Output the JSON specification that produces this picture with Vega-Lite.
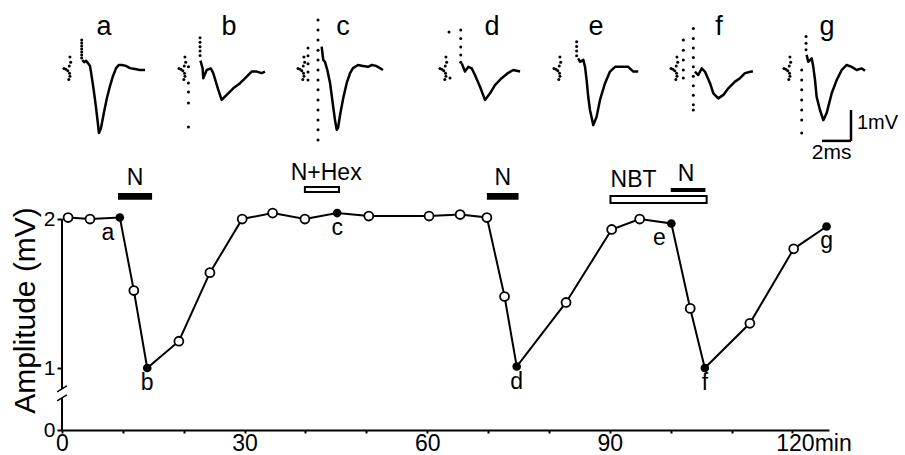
{
"$schema": "https://vega.github.io/schema/vega-lite/v6.json",
"autosize": {"type": "none"},
"padding": {"left": 62, "top": 170, "right": 76, "bottom": 25},
"width": 767, "height": 260,
"config": {"view": {"stroke": null}, "font": "Liberation Sans", "text": {"font": "Liberation Sans"}, "axis": {"labelFont": "Liberation Sans", "titleFont": "Liberation Sans"}},
"datasets": {
"amp": [
{"t":1.0,"mV":2.01,"label":""},{"t":4.6,"mV":2.0,"label":""},{"t":9.5,"mV":2.01,"label":"a"},{"t":11.8,"mV":1.52,"label":""},{"t":14.0,"mV":1.0,"label":"b"},{"t":19.2,"mV":1.18,"label":""},{"t":24.3,"mV":1.64,"label":""},{"t":29.6,"mV":2.0,"label":""},{"t":34.6,"mV":2.04,"label":""},{"t":39.9,"mV":2.0,"label":""},{"t":45.2,"mV":2.04,"label":"c"},{"t":50.4,"mV":2.02,"label":""},{"t":60.3,"mV":2.02,"label":""},{"t":65.4,"mV":2.03,"label":""},{"t":69.8,"mV":2.01,"label":""},{"t":72.7,"mV":1.48,"label":""},{"t":74.7,"mV":1.01,"label":"d"},{"t":82.8,"mV":1.44,"label":""},{"t":90.3,"mV":1.93,"label":""},{"t":94.9,"mV":2.0,"label":""},{"t":100.1,"mV":1.97,"label":"e"},{"t":103.2,"mV":1.40,"label":""},{"t":105.6,"mV":1.0,"label":"f"},{"t":113.0,"mV":1.30,"label":""},{"t":120.2,"mV":1.80,"label":""},{"t":125.6,"mV":1.95,"label":"g"}
],
"traces": [
{"trace":"a","ms":0.48,"mV":0.41,"kind":"dot"},{"trace":"a","ms":0.53,"mV":0.25,"kind":"dot"},{"trace":"a","ms":0.43,"mV":0.13,"kind":"dot"},{"trace":"a","ms":0.07,"mV":0.05,"kind":"dot"},{"trace":"a","ms":0.2,"mV":0.02,"kind":"dot"},{"trace":"a","ms":0.33,"mV":-0.02,"kind":"dot"},{"trace":"a","ms":0.45,"mV":-0.1,"kind":"dot"},{"trace":"a","ms":0.48,"mV":-0.2,"kind":"dot"},{"trace":"a","ms":0.4,"mV":-0.3,"kind":"dot"},
{"trace":"a","ms":1.29,"mV":0.95,"kind":"dot"},{"trace":"a","ms":1.29,"mV":0.86,"kind":"dot"},{"trace":"a","ms":1.29,"mV":0.76,"kind":"dot"},{"trace":"a","ms":1.29,"mV":0.67,"kind":"dot"},{"trace":"a","ms":1.29,"mV":0.57,"kind":"dot"},{"trace":"a","ms":1.29,"mV":0.48,"kind":"dot"},{"trace":"a","ms":1.29,"mV":0.38,"kind":"dot"},
{"trace":"a","ms":1.34,"mV":0.32,"kind":"line"},{"trace":"a","ms":1.45,"mV":0.25,"kind":"line"},{"trace":"a","ms":1.59,"mV":0.29,"kind":"line"},{"trace":"a","ms":1.72,"mV":0.22,"kind":"line"},{"trace":"a","ms":1.86,"mV":0.13,"kind":"line"},{"trace":"a","ms":1.93,"mV":-0.06,"kind":"line"},{"trace":"a","ms":2.07,"mV":-0.48,"kind":"line"},{"trace":"a","ms":2.21,"mV":-0.95,"kind":"line"},{"trace":"a","ms":2.34,"mV":-1.43,"kind":"line"},{"trace":"a","ms":2.48,"mV":-2.0,"kind":"line"},{"trace":"a","ms":2.62,"mV":-1.84,"kind":"line"},{"trace":"a","ms":2.83,"mV":-1.33,"kind":"line"},{"trace":"a","ms":3.03,"mV":-0.89,"kind":"line"},{"trace":"a","ms":3.24,"mV":-0.51,"kind":"line"},{"trace":"a","ms":3.45,"mV":-0.19,"kind":"line"},{"trace":"a","ms":3.66,"mV":0.06,"kind":"line"},{"trace":"a","ms":3.86,"mV":0.16,"kind":"line"},{"trace":"a","ms":4.07,"mV":0.16,"kind":"line"},{"trace":"a","ms":4.34,"mV":0.13,"kind":"line"},{"trace":"a","ms":4.62,"mV":0.06,"kind":"line"},{"trace":"a","ms":4.97,"mV":0.03,"kind":"line"},{"trace":"a","ms":5.31,"mV":0,"kind":"line"},{"trace":"a","ms":5.66,"mV":0,"kind":"line"},
{"trace":"b","ms":0.48,"mV":0.41,"kind":"dot"},{"trace":"b","ms":0.53,"mV":0.25,"kind":"dot"},{"trace":"b","ms":0.43,"mV":0.13,"kind":"dot"},{"trace":"b","ms":0.07,"mV":0.05,"kind":"dot"},{"trace":"b","ms":0.2,"mV":0.02,"kind":"dot"},{"trace":"b","ms":0.33,"mV":-0.02,"kind":"dot"},{"trace":"b","ms":0.45,"mV":-0.1,"kind":"dot"},{"trace":"b","ms":0.48,"mV":-0.2,"kind":"dot"},{"trace":"b","ms":0.4,"mV":-0.3,"kind":"dot"},
{"trace":"b","ms":1.52,"mV":1.02,"kind":"dot"},{"trace":"b","ms":1.52,"mV":0.88,"kind":"dot"},{"trace":"b","ms":1.52,"mV":0.74,"kind":"dot"},{"trace":"b","ms":1.52,"mV":0.6,"kind":"dot"},{"trace":"b","ms":1.52,"mV":0.46,"kind":"dot"},
{"trace":"b","ms":0.72,"mV":0.1,"kind":"dot"},{"trace":"b","ms":0.72,"mV":-0.41,"kind":"dot"},{"trace":"b","ms":0.72,"mV":-0.7,"kind":"dot"},{"trace":"b","ms":0.72,"mV":-1.05,"kind":"dot"},{"trace":"b","ms":0.72,"mV":-1.81,"kind":"dot"},
{"trace":"b","ms":1.55,"mV":0.3,"kind":"line"},{"trace":"b","ms":1.7,"mV":0.05,"kind":"line"},{"trace":"b","ms":1.74,"mV":-0.26,"kind":"line"},{"trace":"b","ms":1.98,"mV":0,"kind":"line"},{"trace":"b","ms":2.26,"mV":0.05,"kind":"line"},{"trace":"b","ms":2.43,"mV":-0.1,"kind":"line"},{"trace":"b","ms":2.78,"mV":-0.63,"kind":"line"},{"trace":"b","ms":3.01,"mV":-0.95,"kind":"line"},{"trace":"b","ms":3.36,"mV":-0.79,"kind":"line"},{"trace":"b","ms":3.81,"mV":-0.58,"kind":"line"},{"trace":"b","ms":4.28,"mV":-0.42,"kind":"line"},{"trace":"b","ms":4.74,"mV":-0.21,"kind":"line"},{"trace":"b","ms":5.08,"mV":-0.05,"kind":"line"},{"trace":"b","ms":5.43,"mV":-0.05,"kind":"line"},{"trace":"b","ms":5.77,"mV":-0.1,"kind":"line"},{"trace":"b","ms":6.0,"mV":-0.05,"kind":"line"},
{"trace":"c","ms":0.48,"mV":0.41,"kind":"dot"},{"trace":"c","ms":0.53,"mV":0.25,"kind":"dot"},{"trace":"c","ms":0.43,"mV":0.13,"kind":"dot"},{"trace":"c","ms":0.07,"mV":0.05,"kind":"dot"},{"trace":"c","ms":0.2,"mV":0.02,"kind":"dot"},{"trace":"c","ms":0.33,"mV":-0.02,"kind":"dot"},{"trace":"c","ms":0.45,"mV":-0.1,"kind":"dot"},{"trace":"c","ms":0.48,"mV":-0.2,"kind":"dot"},{"trace":"c","ms":0.4,"mV":-0.3,"kind":"dot"},
{"trace":"c","ms":0.76,"mV":0.7,"kind":"dot"},{"trace":"c","ms":0.76,"mV":0.45,"kind":"dot"},{"trace":"c","ms":0.76,"mV":0.2,"kind":"dot"},{"trace":"c","ms":0.76,"mV":-0.06,"kind":"dot"},{"trace":"c","ms":0.76,"mV":-0.32,"kind":"dot"},
{"trace":"c","ms":1.45,"mV":1.59,"kind":"dot"},{"trace":"c","ms":1.45,"mV":1.27,"kind":"dot"},{"trace":"c","ms":1.45,"mV":0.95,"kind":"dot"},{"trace":"c","ms":1.45,"mV":0.63,"kind":"dot"},{"trace":"c","ms":1.45,"mV":0.32,"kind":"dot"},{"trace":"c","ms":1.45,"mV":0,"kind":"dot"},{"trace":"c","ms":1.45,"mV":-0.32,"kind":"dot"},{"trace":"c","ms":1.45,"mV":-0.63,"kind":"dot"},{"trace":"c","ms":1.45,"mV":-0.95,"kind":"dot"},{"trace":"c","ms":1.45,"mV":-1.27,"kind":"dot"},{"trace":"c","ms":1.45,"mV":-1.59,"kind":"dot"},{"trace":"c","ms":1.45,"mV":-1.9,"kind":"dot"},{"trace":"c","ms":1.45,"mV":-2.22,"kind":"dot"},
{"trace":"c","ms":1.7,"mV":0.74,"kind":"line"},{"trace":"c","ms":1.81,"mV":0.32,"kind":"line"},{"trace":"c","ms":1.93,"mV":0.26,"kind":"line"},{"trace":"c","ms":2.09,"mV":0,"kind":"line"},{"trace":"c","ms":2.28,"mV":-0.41,"kind":"line"},{"trace":"c","ms":2.48,"mV":-1.11,"kind":"line"},{"trace":"c","ms":2.62,"mV":-1.59,"kind":"line"},{"trace":"c","ms":2.74,"mV":-1.9,"kind":"line"},{"trace":"c","ms":2.83,"mV":-1.84,"kind":"line"},{"trace":"c","ms":2.97,"mV":-1.43,"kind":"line"},{"trace":"c","ms":3.19,"mV":-0.89,"kind":"line"},{"trace":"c","ms":3.43,"mV":-0.41,"kind":"line"},{"trace":"c","ms":3.66,"mV":-0.1,"kind":"line"},{"trace":"c","ms":3.86,"mV":0.06,"kind":"line"},{"trace":"c","ms":4.21,"mV":0.16,"kind":"line"},{"trace":"c","ms":4.55,"mV":0.13,"kind":"line"},{"trace":"c","ms":4.9,"mV":0.1,"kind":"line"},{"trace":"c","ms":5.17,"mV":0.16,"kind":"line"},{"trace":"c","ms":5.45,"mV":0.13,"kind":"line"},{"trace":"c","ms":5.72,"mV":0.06,"kind":"line"},{"trace":"c","ms":5.93,"mV":0,"kind":"line"},
{"trace":"d","ms":0.48,"mV":0.41,"kind":"dot"},{"trace":"d","ms":0.53,"mV":0.25,"kind":"dot"},{"trace":"d","ms":0.43,"mV":0.13,"kind":"dot"},{"trace":"d","ms":0.07,"mV":0.05,"kind":"dot"},{"trace":"d","ms":0.2,"mV":0.02,"kind":"dot"},{"trace":"d","ms":0.33,"mV":-0.02,"kind":"dot"},{"trace":"d","ms":0.45,"mV":-0.1,"kind":"dot"},{"trace":"d","ms":0.48,"mV":-0.2,"kind":"dot"},{"trace":"d","ms":0.4,"mV":-0.3,"kind":"dot"},
{"trace":"d","ms":0.69,"mV":1.21,"kind":"dot"},{"trace":"d","ms":0.76,"mV":-0.25,"kind":"dot"},
{"trace":"d","ms":1.5,"mV":1.27,"kind":"dot"},{"trace":"d","ms":1.5,"mV":1.0,"kind":"dot"},{"trace":"d","ms":1.5,"mV":0.73,"kind":"dot"},{"trace":"d","ms":1.5,"mV":0.48,"kind":"dot"},{"trace":"d","ms":1.5,"mV":0.25,"kind":"dot"},
{"trace":"d","ms":1.57,"mV":0.21,"kind":"line"},{"trace":"d","ms":1.79,"mV":-0.05,"kind":"line"},{"trace":"d","ms":2.02,"mV":0.1,"kind":"line"},{"trace":"d","ms":2.26,"mV":0.05,"kind":"line"},{"trace":"d","ms":2.48,"mV":-0.16,"kind":"line"},{"trace":"d","ms":2.83,"mV":-0.53,"kind":"line"},{"trace":"d","ms":3.17,"mV":-0.95,"kind":"line"},{"trace":"d","ms":3.52,"mV":-0.74,"kind":"line"},{"trace":"d","ms":3.86,"mV":-0.48,"kind":"line"},{"trace":"d","ms":4.32,"mV":-0.26,"kind":"line"},{"trace":"d","ms":4.78,"mV":-0.09,"kind":"line"},{"trace":"d","ms":5.12,"mV":0,"kind":"line"},{"trace":"d","ms":5.59,"mV":-0.05,"kind":"line"},
{"trace":"e","ms":0.48,"mV":0.41,"kind":"dot"},{"trace":"e","ms":0.53,"mV":0.25,"kind":"dot"},{"trace":"e","ms":0.43,"mV":0.13,"kind":"dot"},{"trace":"e","ms":0.07,"mV":0.05,"kind":"dot"},{"trace":"e","ms":0.2,"mV":0.02,"kind":"dot"},{"trace":"e","ms":0.33,"mV":-0.02,"kind":"dot"},{"trace":"e","ms":0.45,"mV":-0.1,"kind":"dot"},{"trace":"e","ms":0.48,"mV":-0.2,"kind":"dot"},{"trace":"e","ms":0.4,"mV":-0.3,"kind":"dot"},
{"trace":"e","ms":1.63,"mV":0.9,"kind":"dot"},{"trace":"e","ms":1.63,"mV":0.75,"kind":"dot"},{"trace":"e","ms":1.63,"mV":0.6,"kind":"dot"},{"trace":"e","ms":1.63,"mV":0.45,"kind":"dot"},
{"trace":"e","ms":1.74,"mV":0.37,"kind":"line"},{"trace":"e","ms":1.86,"mV":0.26,"kind":"line"},{"trace":"e","ms":2.09,"mV":0.32,"kind":"line"},{"trace":"e","ms":2.21,"mV":0.1,"kind":"line"},{"trace":"e","ms":2.32,"mV":-0.32,"kind":"line"},{"trace":"e","ms":2.43,"mV":-0.85,"kind":"line"},{"trace":"e","ms":2.55,"mV":-1.27,"kind":"line"},{"trace":"e","ms":2.78,"mV":-1.75,"kind":"line"},{"trace":"e","ms":3.01,"mV":-1.48,"kind":"line"},{"trace":"e","ms":3.24,"mV":-0.95,"kind":"line"},{"trace":"e","ms":3.59,"mV":-0.42,"kind":"line"},{"trace":"e","ms":3.93,"mV":-0.05,"kind":"line"},{"trace":"e","ms":4.28,"mV":0.1,"kind":"line"},{"trace":"e","ms":4.62,"mV":0.1,"kind":"line"},{"trace":"e","ms":5.19,"mV":0.1,"kind":"line"},{"trace":"e","ms":5.54,"mV":-0.05,"kind":"line"},{"trace":"e","ms":5.88,"mV":-0.05,"kind":"line"},
{"trace":"f","ms":0.48,"mV":0.41,"kind":"dot"},{"trace":"f","ms":0.53,"mV":0.25,"kind":"dot"},{"trace":"f","ms":0.43,"mV":0.13,"kind":"dot"},{"trace":"f","ms":0.07,"mV":0.05,"kind":"dot"},{"trace":"f","ms":0.2,"mV":0.02,"kind":"dot"},{"trace":"f","ms":0.33,"mV":-0.02,"kind":"dot"},{"trace":"f","ms":0.45,"mV":-0.1,"kind":"dot"},{"trace":"f","ms":0.48,"mV":-0.2,"kind":"dot"},{"trace":"f","ms":0.4,"mV":-0.3,"kind":"dot"},
{"trace":"f","ms":0.92,"mV":0.95,"kind":"dot"},{"trace":"f","ms":0.92,"mV":0.63,"kind":"dot"},{"trace":"f","ms":0.92,"mV":0.32,"kind":"dot"},{"trace":"f","ms":0.92,"mV":0,"kind":"dot"},{"trace":"f","ms":0.92,"mV":-0.25,"kind":"dot"},
{"trace":"f","ms":1.61,"mV":1.32,"kind":"dot"},{"trace":"f","ms":1.61,"mV":1.0,"kind":"dot"},{"trace":"f","ms":1.61,"mV":0.7,"kind":"dot"},{"trace":"f","ms":1.61,"mV":0.4,"kind":"dot"},{"trace":"f","ms":1.61,"mV":0.1,"kind":"dot"},{"trace":"f","ms":1.61,"mV":-0.2,"kind":"dot"},{"trace":"f","ms":1.61,"mV":-0.5,"kind":"dot"},{"trace":"f","ms":1.61,"mV":-0.8,"kind":"dot"},{"trace":"f","ms":1.61,"mV":-1.1,"kind":"dot"},{"trace":"f","ms":1.61,"mV":-1.27,"kind":"dot"},
{"trace":"f","ms":1.72,"mV":-0.05,"kind":"line"},{"trace":"f","ms":1.95,"mV":-0.16,"kind":"line"},{"trace":"f","ms":2.19,"mV":0.05,"kind":"line"},{"trace":"f","ms":2.41,"mV":-0.05,"kind":"line"},{"trace":"f","ms":2.76,"mV":-0.42,"kind":"line"},{"trace":"f","ms":2.99,"mV":-0.74,"kind":"line"},{"trace":"f","ms":3.33,"mV":-0.9,"kind":"line"},{"trace":"f","ms":3.68,"mV":-0.79,"kind":"line"},{"trace":"f","ms":4.02,"mV":-0.58,"kind":"line"},{"trace":"f","ms":4.48,"mV":-0.37,"kind":"line"},{"trace":"f","ms":4.83,"mV":-0.26,"kind":"line"},{"trace":"f","ms":5.17,"mV":-0.1,"kind":"line"},{"trace":"f","ms":5.63,"mV":-0.05,"kind":"line"},{"trace":"f","ms":5.72,"mV":-0.05,"kind":"line"},
{"trace":"g","ms":0.48,"mV":0.41,"kind":"dot"},{"trace":"g","ms":0.53,"mV":0.25,"kind":"dot"},{"trace":"g","ms":0.43,"mV":0.13,"kind":"dot"},{"trace":"g","ms":0.07,"mV":0.05,"kind":"dot"},{"trace":"g","ms":0.2,"mV":0.02,"kind":"dot"},{"trace":"g","ms":0.33,"mV":-0.02,"kind":"dot"},{"trace":"g","ms":0.45,"mV":-0.1,"kind":"dot"},{"trace":"g","ms":0.48,"mV":-0.2,"kind":"dot"},{"trace":"g","ms":0.4,"mV":-0.3,"kind":"dot"},
{"trace":"g","ms":1.59,"mV":1.06,"kind":"dot"},{"trace":"g","ms":1.59,"mV":0.85,"kind":"dot"},{"trace":"g","ms":1.59,"mV":0.64,"kind":"dot"},
{"trace":"g","ms":1.29,"mV":0,"kind":"dot"},{"trace":"g","ms":1.29,"mV":-0.32,"kind":"dot"},{"trace":"g","ms":1.29,"mV":-0.63,"kind":"dot"},{"trace":"g","ms":1.29,"mV":-0.95,"kind":"dot"},{"trace":"g","ms":1.29,"mV":-1.27,"kind":"dot"},{"trace":"g","ms":1.29,"mV":-1.59,"kind":"dot"},{"trace":"g","ms":1.29,"mV":-2.0,"kind":"dot"},
{"trace":"g","ms":1.63,"mV":0.48,"kind":"line"},{"trace":"g","ms":1.74,"mV":0.26,"kind":"line"},{"trace":"g","ms":1.98,"mV":0.37,"kind":"line"},{"trace":"g","ms":2.09,"mV":0.1,"kind":"line"},{"trace":"g","ms":2.21,"mV":-0.32,"kind":"line"},{"trace":"g","ms":2.32,"mV":-0.85,"kind":"line"},{"trace":"g","ms":2.55,"mV":-1.27,"kind":"line"},{"trace":"g","ms":2.78,"mV":-1.59,"kind":"line"},{"trace":"g","ms":3.01,"mV":-1.37,"kind":"line"},{"trace":"g","ms":3.36,"mV":-0.74,"kind":"line"},{"trace":"g","ms":3.7,"mV":-0.32,"kind":"line"},{"trace":"g","ms":4.05,"mV":0,"kind":"line"},{"trace":"g","ms":4.39,"mV":0.16,"kind":"line"},{"trace":"g","ms":4.74,"mV":0.1,"kind":"line"},{"trace":"g","ms":5.08,"mV":0,"kind":"line"},{"trace":"g","ms":5.43,"mV":0.05,"kind":"line"},{"trace":"g","ms":5.66,"mV":-0.02,"kind":"line"}
]
},
"resolve": {"scale": {"x": "independent", "y": "independent"}},
"layer": [
{
"layer": [
 {"data":{"name":"amp"},"mark":{"type":"line","color":"black","strokeWidth":2},
  "encoding":{
   "x":{"field":"t","type":"quantitative","scale":{"domain":[0,126],"nice":false,"zero":false},
        "axis":{"title":null,"values":[0,10,20,30,40,50,60,70,80,90,100,110,120],"labelExpr":"datum.value % 30 == 0 ? (datum.value == 120 ? '120min' : format(datum.value,'d')) : ''","labelOverlap":false,"labelBound":false,"labelFlush":false,"grid":false,"tickSize":3,"tickWidth":2,"domainWidth":2,"domainColor":"black","tickColor":"black","labelColor":"black","labelFontSize":23,"labelPadding":-1,"labelOffset":{"condition":{"test":"datum.value == 120","value":21},"value":0}}},
   "y":{"field":"mV","type":"quantitative","scale":{"domain":[0.584,2.329],"nice":false,"zero":false},
        "axis":{"title":"Amplitude (mV)","values":[0.584,1,2],"labelExpr":"datum.value < 0.7 ? '0' : format(datum.value,'d')","domain":false,"grid":false,"tickSize":5,"tickWidth":2,"tickColor":"black","labelColor":"black","labelFontSize":21,"labelPadding":2,"titleFontSize":30,"titleFontWeight":"normal","titleColor":"black","titleX":-28,"titleY":140,"titleBaseline":"alphabetic","titleAlign":"center","titleAngle":-90}}
  }},
 {"data":{"name":"amp"},"transform":[{"filter":"datum.label == ''"}],"mark":{"type":"point","filled":true,"fill":"white","stroke":"black","strokeWidth":1.8,"size":80,"opacity":1},"encoding":{"x":{"field":"t","type":"quantitative"},"y":{"field":"mV","type":"quantitative"}}},
 {"data":{"name":"amp"},"transform":[{"filter":"datum.label != ''"}],"mark":{"type":"point","filled":true,"color":"black","size":75,"opacity":1},"encoding":{"x":{"field":"t","type":"quantitative"},"y":{"field":"mV","type":"quantitative"}}},
 {"data":{"name":"amp"},"transform":[{"filter":"datum.label == 'a' || datum.label == 'e'"}],"mark":{"type":"text","fontSize":23,"dx":-12,"dy":15,"baseline":"middle","color":"black"},"encoding":{"x":{"field":"t","type":"quantitative"},"y":{"field":"mV","type":"quantitative"},"text":{"field":"label"}}},
 {"data":{"name":"amp"},"transform":[{"filter":"datum.label != '' && datum.label != 'a' && datum.label != 'e'"}],"mark":{"type":"text","fontSize":23,"dy":15,"baseline":"middle","color":"black"},"encoding":{"x":{"field":"t","type":"quantitative"},"y":{"field":"mV","type":"quantitative"},"text":{"field":"label"}}},
 {"data":{"values":[{}]},"mark":{"type":"rule","color":"black","strokeWidth":2},"encoding":{"x":{"datum":0,"type":"quantitative"},"y":{"datum":0.86,"type":"quantitative"},"y2":{"datum":2.0}}},
 {"data":{"values":[{}]},"mark":{"type":"rule","color":"black","strokeWidth":2},"encoding":{"x":{"datum":0,"type":"quantitative"},"y":{"datum":0.584,"type":"quantitative"},"y2":{"datum":0.8}}},
 {"data":{"values":[{}]},"mark":{"type":"rule","color":"black","strokeWidth":1.5},"encoding":{"x":{"datum":-0.8,"type":"quantitative"},"x2":{"datum":0.8},"y":{"datum":0.84,"type":"quantitative"},"y2":{"datum":0.88}}},
 {"data":{"values":[{}]},"mark":{"type":"rule","color":"black","strokeWidth":1.5},"encoding":{"x":{"datum":-0.8,"type":"quantitative"},"x2":{"datum":0.8},"y":{"datum":0.78,"type":"quantitative"},"y2":{"datum":0.82}}},
 {"data":{"values":[{"start":9.2,"end":14.8},{"start":69.8,"end":75.0}]},"mark":{"type":"rect","color":"black"},"encoding":{"x":{"field":"start","type":"quantitative"},"x2":{"field":"end"},"y":{"datum":2.174,"type":"quantitative"},"y2":{"datum":2.13}}},
 {"data":{"values":[{"start":39.9,"end":45.5}]},"mark":{"type":"rect","fill":"white","stroke":"black","strokeWidth":2},"encoding":{"x":{"field":"start","type":"quantitative"},"x2":{"field":"end"},"y":{"datum":2.215,"type":"quantitative"},"y2":{"datum":2.181}}},
 {"data":{"values":[{"start":90.1,"end":105.9}]},"mark":{"type":"rect","fill":"white","stroke":"black","strokeWidth":2},"encoding":{"x":{"field":"start","type":"quantitative"},"x2":{"field":"end"},"y":{"datum":2.154,"type":"quantitative"},"y2":{"datum":2.107}}},
 {"data":{"values":[{"start":100.0,"end":105.7}]},"mark":{"type":"rect","color":"black"},"encoding":{"x":{"field":"start","type":"quantitative"},"x2":{"field":"end"},"y":{"datum":2.208,"type":"quantitative"},"y2":{"datum":2.181}}},
 {"data":{"values":[{"text":"N","t":12.0,"mV":2.272},{"text":"N+Hex","t":43.4,"mV":2.312},{"text":"N","t":72.4,"mV":2.272},{"text":"NBT","t":93.9,"mV":2.262},{"text":"N","t":102.5,"mV":2.302}]},"mark":{"type":"text","fontSize":23,"baseline":"middle","align":"center","color":"black"},"encoding":{"x":{"field":"t","type":"quantitative"},"y":{"field":"mV","type":"quantitative"},"text":{"field":"text"}}}
]
},
{"layer":[
  {"data":{"name":"traces"},"transform":[{"filter":"datum.trace == 'a' && datum.kind == 'line'"}],"mark":{"type":"line","color":"black","strokeWidth":2.5,"strokeJoin":"round"},
   "encoding":{"x":{"field":"ms","type":"quantitative","scale":{"domain":[-0.069,52.828],"nice":false,"zero":false},"axis":null},"y":{"field":"mV","type":"quantitative","scale":{"domain":[-11.4286,-3.1746],"nice":false,"zero":false},"axis":null}}},
  {"data":{"name":"traces"},"transform":[{"filter":"datum.trace == 'a' && datum.kind == 'dot'"}],"mark":{"type":"point","filled":true,"color":"black","size":9,"opacity":1},"encoding":{"x":{"field":"ms","type":"quantitative"},"y":{"field":"mV","type":"quantitative"}}},
  {"data":{"values":[{"text":"a"}]},"mark":{"type":"text","fontSize":27,"baseline":"alphabetic","align":"center","color":"black"},"encoding":{"x":{"datum":2.83,"type":"quantitative"},"y":{"datum":1.111,"type":"quantitative"},"text":{"field":"text"}}}
 ]},
{"layer":[
  {"data":{"name":"traces"},"transform":[{"filter":"datum.trace == 'b' && datum.kind == 'line'"}],"mark":{"type":"line","color":"black","strokeWidth":2.5,"strokeJoin":"round"},
   "encoding":{"x":{"field":"ms","type":"quantitative","scale":{"domain":[-8.0,44.897],"nice":false,"zero":false},"axis":null},"y":{"field":"mV","type":"quantitative","scale":{"domain":[-11.4286,-3.1746],"nice":false,"zero":false},"axis":null}}},
  {"data":{"name":"traces"},"transform":[{"filter":"datum.trace == 'b' && datum.kind == 'dot'"}],"mark":{"type":"point","filled":true,"color":"black","size":9,"opacity":1},"encoding":{"x":{"field":"ms","type":"quantitative"},"y":{"field":"mV","type":"quantitative"}}},
  {"data":{"values":[{"text":"b"}]},"mark":{"type":"text","fontSize":27,"baseline":"alphabetic","align":"center","color":"black"},"encoding":{"x":{"datum":3.52,"type":"quantitative"},"y":{"datum":1.111,"type":"quantitative"},"text":{"field":"text"}}}
 ]},
{"layer":[
  {"data":{"name":"traces"},"transform":[{"filter":"datum.trace == 'c' && datum.kind == 'line'"}],"mark":{"type":"line","color":"black","strokeWidth":2.5,"strokeJoin":"round"},
   "encoding":{"x":{"field":"ms","type":"quantitative","scale":{"domain":[-16.207,36.69],"nice":false,"zero":false},"axis":null},"y":{"field":"mV","type":"quantitative","scale":{"domain":[-11.4286,-3.1746],"nice":false,"zero":false},"axis":null}}},
  {"data":{"name":"traces"},"transform":[{"filter":"datum.trace == 'c' && datum.kind == 'dot'"}],"mark":{"type":"point","filled":true,"color":"black","size":9,"opacity":1},"encoding":{"x":{"field":"ms","type":"quantitative"},"y":{"field":"mV","type":"quantitative"}}},
  {"data":{"values":[{"text":"c"}]},"mark":{"type":"text","fontSize":27,"baseline":"alphabetic","align":"center","color":"black"},"encoding":{"x":{"datum":3.17,"type":"quantitative"},"y":{"datum":1.111,"type":"quantitative"},"text":{"field":"text"}}}
 ]},
{"layer":[
  {"data":{"name":"traces"},"transform":[{"filter":"datum.trace == 'd' && datum.kind == 'line'"}],"mark":{"type":"line","color":"black","strokeWidth":2.5,"strokeJoin":"round"},
   "encoding":{"x":{"field":"ms","type":"quantitative","scale":{"domain":[-26.0,26.897],"nice":false,"zero":false},"axis":null},"y":{"field":"mV","type":"quantitative","scale":{"domain":[-11.4286,-3.1746],"nice":false,"zero":false},"axis":null}}},
  {"data":{"name":"traces"},"transform":[{"filter":"datum.trace == 'd' && datum.kind == 'dot'"}],"mark":{"type":"point","filled":true,"color":"black","size":9,"opacity":1},"encoding":{"x":{"field":"ms","type":"quantitative"},"y":{"field":"mV","type":"quantitative"}}},
  {"data":{"values":[{"text":"d"}]},"mark":{"type":"text","fontSize":27,"baseline":"alphabetic","align":"center","color":"black"},"encoding":{"x":{"datum":3.66,"type":"quantitative"},"y":{"datum":1.111,"type":"quantitative"},"text":{"field":"text"}}}
 ]},
{"layer":[
  {"data":{"name":"traces"},"transform":[{"filter":"datum.trace == 'e' && datum.kind == 'line'"}],"mark":{"type":"line","color":"black","strokeWidth":2.5,"strokeJoin":"round"},
   "encoding":{"x":{"field":"ms","type":"quantitative","scale":{"domain":[-33.862,19.035],"nice":false,"zero":false},"axis":null},"y":{"field":"mV","type":"quantitative","scale":{"domain":[-11.4286,-3.1746],"nice":false,"zero":false},"axis":null}}},
  {"data":{"name":"traces"},"transform":[{"filter":"datum.trace == 'e' && datum.kind == 'dot'"}],"mark":{"type":"point","filled":true,"color":"black","size":9,"opacity":1},"encoding":{"x":{"field":"ms","type":"quantitative"},"y":{"field":"mV","type":"quantitative"}}},
  {"data":{"values":[{"text":"e"}]},"mark":{"type":"text","fontSize":27,"baseline":"alphabetic","align":"center","color":"black"},"encoding":{"x":{"datum":2.97,"type":"quantitative"},"y":{"datum":1.111,"type":"quantitative"},"text":{"field":"text"}}}
 ]},
{"layer":[
  {"data":{"name":"traces"},"transform":[{"filter":"datum.trace == 'f' && datum.kind == 'line'"}],"mark":{"type":"line","color":"black","strokeWidth":2.5,"strokeJoin":"round"},
   "encoding":{"x":{"field":"ms","type":"quantitative","scale":{"domain":[-41.931,10.966],"nice":false,"zero":false},"axis":null},"y":{"field":"mV","type":"quantitative","scale":{"domain":[-11.4286,-3.1746],"nice":false,"zero":false},"axis":null}}},
  {"data":{"name":"traces"},"transform":[{"filter":"datum.trace == 'f' && datum.kind == 'dot'"}],"mark":{"type":"point","filled":true,"color":"black","size":9,"opacity":1},"encoding":{"x":{"field":"ms","type":"quantitative"},"y":{"field":"mV","type":"quantitative"}}},
  {"data":{"values":[{"text":"f"}]},"mark":{"type":"text","fontSize":27,"baseline":"alphabetic","align":"center","color":"black"},"encoding":{"x":{"datum":3.38,"type":"quantitative"},"y":{"datum":1.111,"type":"quantitative"},"text":{"field":"text"}}}
 ]},
{"layer":[
  {"data":{"name":"traces"},"transform":[{"filter":"datum.trace == 'g' && datum.kind == 'line'"}],"mark":{"type":"line","color":"black","strokeWidth":2.5,"strokeJoin":"round"},
   "encoding":{"x":{"field":"ms","type":"quantitative","scale":{"domain":[-49.724,3.173],"nice":false,"zero":false},"axis":null},"y":{"field":"mV","type":"quantitative","scale":{"domain":[-11.4286,-3.1746],"nice":false,"zero":false},"axis":null}}},
  {"data":{"name":"traces"},"transform":[{"filter":"datum.trace == 'g' && datum.kind == 'dot'"}],"mark":{"type":"point","filled":true,"color":"black","size":9,"opacity":1},"encoding":{"x":{"field":"ms","type":"quantitative"},"y":{"field":"mV","type":"quantitative"}}},
  {"data":{"values":[{"text":"g"}]},"mark":{"type":"text","fontSize":27,"baseline":"alphabetic","align":"center","color":"black"},"encoding":{"x":{"datum":3.03,"type":"quantitative"},"y":{"datum":1.111,"type":"quantitative"},"text":{"field":"text"}}},
  {"data":{"values":[{}]},"mark":{"type":"rule","color":"black","strokeWidth":2.5},"encoding":{"x":{"datum":2.69,"type":"quantitative"},"x2":{"datum":4.69},"y":{"datum":-2.25,"type":"quantitative"}}},
  {"data":{"values":[{}]},"mark":{"type":"rule","color":"black","strokeWidth":2.5},"encoding":{"x":{"datum":4.69,"type":"quantitative"},"y":{"datum":-2.25,"type":"quantitative"},"y2":{"datum":-1.27}}},
  {"data":{"values":[{"text":"1mV"}]},"mark":{"type":"text","align":"left","baseline":"middle","fontSize":20,"color":"black"},"encoding":{"x":{"datum":5.1,"type":"quantitative"},"y":{"datum":-1.68,"type":"quantitative"},"text":{"field":"text"}}},
  {"data":{"values":[{"text":"2ms"}]},"mark":{"type":"text","align":"center","baseline":"middle","fontSize":21,"color":"black"},"encoding":{"x":{"datum":3.36,"type":"quantitative"},"y":{"datum":-2.62,"type":"quantitative"},"text":{"field":"text"}}}
 ]}
]
}
